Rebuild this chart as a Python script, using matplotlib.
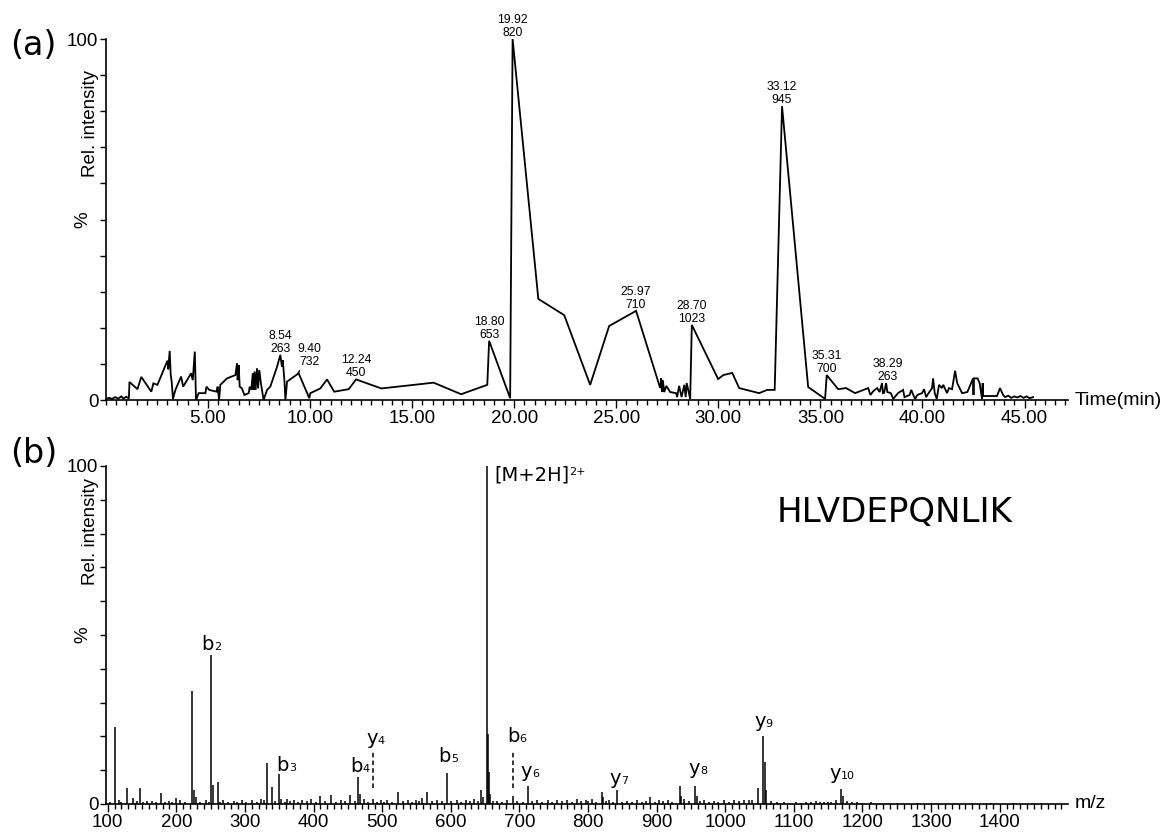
import matplotlib
matplotlib.use('Agg')
import matplotlib.pyplot as plt
from matplotlib.ticker import MultipleLocator, FixedLocator, FormatStrFormatter

plt.rcParams['font.family'] = ['Liberation Sans', 'DejaVu Sans']
plt.rcParams['mathtext.fontset'] = 'dejavusans'

# ---------------- (a) chromatogram data ----------------
tic_time = [0.00, 0.15, 0.30, 0.45, 0.60, 0.75, 0.85, 1.00, 1.12,
            1.15, 1.54, 1.73, 2.22, 2.32, 2.52, 3.01, 3.05, 3.12, 3.17,
            3.22, 3.28, 3.40, 3.68, 3.78, 4.17, 4.25, 4.35, 4.41, 4.54,
            4.87, 4.92, 5.06, 5.41, 5.47, 5.54, 5.60, 5.93, 6.34, 6.42,
            6.45, 6.50, 6.55, 6.66, 6.78, 6.99, 7.04, 7.12, 7.19, 7.23,
            7.28, 7.33, 7.40, 7.45, 7.51, 7.59, 7.72, 7.89, 8.05, 8.38,
            8.54, 8.62, 8.66, 8.74, 8.79, 8.87, 9.44, 9.96, 10.01, 10.50,
            10.83, 11.18, 11.89, 12.25, 13.49, 16.05, 17.40, 18.68, 18.77, 19.80,
            19.92, 21.18, 22.45, 23.72, 24.65, 25.97, 27.15, 27.20, 27.25, 27.28,
            27.35, 27.45, 27.64, 27.93, 27.98, 28.08, 28.20, 28.33, 28.40, 28.45,
            28.62, 28.70, 29.99, 30.24, 30.68, 31.02, 32.00, 32.39, 32.76, 33.12,
            34.40, 35.23, 35.31, 35.87, 36.26, 36.70, 37.34, 37.45, 37.60, 37.78,
            37.90, 38.02, 38.06, 38.12, 38.22, 38.28, 38.45, 38.57, 38.80, 39.05,
            39.12, 39.37, 39.45, 39.55, 39.64, 39.75, 39.98, 40.08, 40.18, 40.30,
            40.47, 40.52, 40.60, 40.70, 40.81, 40.95, 41.02, 41.20, 41.30, 41.45,
            41.60, 41.70, 41.94, 42.20, 42.48, 42.50, 42.52, 42.70, 42.80, 42.92,
            42.95, 42.97, 43.65, 43.80, 43.95, 44.05, 44.20, 44.35, 44.50, 44.65,
            44.80, 44.95, 45.10, 45.25, 45.42]
tic_int = [0.3, 0.6, 0.3, 0.8, 0.4, 1.0, 0.4, 0.9, 0.4,
           5.0, 3.0, 6.4, 2.3, 4.6, 4.2, 10.9, 8.5, 13.6, 7.0,
           5.0, 0.3, 2.8, 6.5, 3.7, 7.4, 5.5, 13.4, 0.0, 1.9,
           1.9, 3.7, 2.8, 2.3, 3.7, 0.0, 4.2, 6.0, 6.9, 10.2,
           5.5, 9.7, 3.7, 3.2, 1.4, 1.9, 3.7, 2.8, 7.4, 2.8,
           7.9, 2.8, 8.8, 3.2, 8.3, 4.6, 0.0, 2.8, 3.7, 9.2,
           12.5, 9.2, 11.0, 5.5, 0.0, 5.1, 7.4, 0.5, 1.9, 3.2,
           5.7, 2.3, 3.0, 5.7, 3.2, 4.8, 1.6, 4.2, 16.4, 0.5,
           100.0, 28.0, 23.5, 4.2, 20.5, 24.7, 3.3, 6.0, 2.2, 5.5,
           2.2, 3.9, 2.2, 1.9, 0.8, 3.9, 0.8, 4.2, 0.8, 4.7,
           0.3, 20.8, 5.8, 6.9, 7.5, 3.3, 1.9, 2.8, 2.8, 81.4,
           3.6, 0.3, 6.9, 3.0, 3.3, 1.9, 3.3, 1.4, 2.5, 3.3,
           2.2, 4.7, 1.9, 2.0, 4.7, 2.2, 1.9, 0.3, 1.9, 2.8,
           0.8, 1.4, 2.8, 1.4, 0.3, 1.4, 1.9, 3.0, 0.8, 1.9,
           3.3, 6.0, 1.9, 0.3, 4.2, 3.3, 4.2, 1.9, 3.3, 3.0,
           8.1, 4.7, 1.9, 2.2, 6.0, 1.4, 6.0, 6.0, 4.7, 0.3,
           4.7, 1.1, 1.1, 3.3, 1.4, 0.8, 1.2, 0.6, 1.0, 0.7,
           1.1, 0.6, 1.0, 0.5, 0.8]
assert len(tic_time) == len(tic_int)

peak_rt_labels = ['8.54', '9.40', '12.24', '18.80', '19.92', '25.97', '28.70', '33.12', '35.31', '38.29']
peak_area_labels = ['263', '732', '450', '653', '820', '710', '1023', '945', '700', '263']
time_ticks = [5, 10, 15, 20, 25, 30, 35, 40, 45]

# ---------------- (b) MS/MS spectrum data ----------------
ms_mz = [103, 110.1, 116, 120, 128.5, 137, 142, 146.5, 151, 157.7,
         165, 170, 177, 183, 189, 194, 200, 206, 213, 223.2,
         225.5, 228, 235, 243, 247, 251.2, 253.5, 260.1, 264, 268.5,
         276, 283.5, 289, 296, 302, 311, 317, 323, 328, 332.2,
         339.5, 344, 350.2, 353, 358, 362, 366, 371.5, 377, 383.6,
         390, 396, 403, 410, 417, 425, 432, 439.5, 446, 453,
         460, 465.2, 467.5, 473.5, 480, 487.3, 492, 498, 503, 507.5,
         515, 523.6, 530, 537, 543, 549, 553, 558.5, 566, 572,
         580.5, 587, 594.3, 601, 609.5, 615, 621.7, 628, 634, 640,
         644.5, 647, 653.4, 654.0, 655.5, 657, 661, 668, 675, 682.5,
         691.3, 697, 705, 712.4, 719, 726, 733, 741, 748, 755,
         762, 770, 777, 784.5, 790, 796.6, 800, 806, 812, 820,
         822.5, 826, 830.6, 836, 841.5, 849, 857, 864, 872, 879,
         884, 891, 897, 903.5, 909, 916, 922, 933.6, 936, 940,
         947, 956.5, 958.5, 963, 969, 976, 983.6, 990, 998, 1005,
         1013, 1020, 1027, 1034.6, 1039.6, 1047, 1055.6, 1057.5, 1059.5, 1066,
         1075, 1085.6, 1094, 1102.7, 1110, 1117, 1125, 1132, 1138, 1144,
         1150, 1154, 1161.6, 1168.7, 1171, 1178, 1185, 1192.7, 1200, 1212,
         1225, 1250, 1280, 1300, 1333.5, 1360, 1387, 1420, 1460]
ms_int = [0.6, 22.7, 1.2, 0.7, 4.6, 1.8, 0.8, 4.7, 0.6, 1.0,
          1.0, 0.6, 3.3, 0.7, 0.8, 0.6, 1.8, 1.1, 0.7, 33.3,
          4.0, 2.0, 0.7, 1.1, 0.6, 44.0, 5.6, 6.5, 0.7, 1.3,
          0.6, 0.8, 0.6, 1.1, 0.7, 1.3, 0.7, 1.5, 1.2, 12.0,
          5.0, 0.9, 8.8, 1.5, 0.7, 1.5, 0.8, 1.3, 0.7, 1.1,
          0.8, 1.5, 0.7, 2.5, 0.8, 2.8, 0.7, 1.1, 0.8, 2.8,
          0.9, 8.0, 3.0, 1.5, 0.7, 1.5, 0.6, 1.3, 0.7, 1.1,
          0.7, 3.5, 0.8, 1.1, 0.7, 1.3, 0.8, 1.8, 3.5, 0.8,
          1.1, 0.8, 9.1, 0.9, 1.3, 0.7, 1.1, 0.8, 1.5, 1.0,
          4.0, 2.0, 100.0, 20.6, 9.4, 3.0, 1.0, 0.8, 0.7, 1.1,
          2.3, 0.8, 0.7, 5.4, 0.9, 1.3, 0.7, 1.1, 0.7, 1.3,
          0.8, 1.1, 0.7, 1.5, 0.8, 1.3, 0.9, 1.5, 0.7, 3.5,
          2.0, 0.8, 1.1, 0.7, 4.0, 0.7, 0.8, 0.6, 1.1, 0.7,
          0.8, 2.0, 0.7, 1.1, 0.8, 1.1, 0.7, 5.4, 2.5, 1.5,
          0.8, 5.4, 2.5, 0.8, 1.1, 0.6, 0.8, 0.7, 1.1, 0.7,
          1.1, 0.8, 1.3, 1.1, 1.3, 4.7, 20.0, 12.4, 4.0, 0.8,
          0.5, 0.5, 0.4, 0.5, 0.4, 0.6, 0.5, 0.8, 0.5, 0.6,
          0.5, 0.6, 1.3, 4.4, 2.5, 0.8, 0.5, 0.6, 0.4, 0.6,
          0.3, 0.3, 0.3, 0.3, 0.4, 0.3, 0.3, 0.2, 0.2]
assert len(ms_mz) == len(ms_int)

ion_letters = ['b', 'b', 'b', 'y', 'b', 'b', 'y', 'y', 'y', 'y', 'y']
ion_numbers = ['2', '3', '4', '4', '5', '6', '6', '7', '8', '9', '10']
ion_mz = [251.2, 350.2, 465.2, 487.3, 594.3, 691.3, 712.4, 841.5, 956.5, 1055.6, 1168.7]
ion_dashed = [False, False, False, True, False, True, False, False, False, False, False]
precursor_mz = 653.4
precursor_label = '[M+2H]'
precursor_charge = '2+'
peptide = 'HLVDEPQNLIK'
mz_ticks = list(range(100, 1500, 100))

# ---------------- layout / style ----------------
W, H = 1163, 832
fig = plt.figure(figsize=(W / 100, H / 100), dpi=100)
fig.patch.set_facecolor('white')
renderer = fig.canvas.get_renderer()
PX2PT = 72.0 / fig.dpi

ax1 = fig.add_axes([106 / W, 1 - 400 / H, 962 / W, 361 / H])
ax2 = fig.add_axes([106 / W, 1 - 804 / H, 962 / W, 338 / H])

LW_SPINE = 1.2
TICKFS = 13.5


def style_axes(ax):
    for s in ('top', 'right'):
        ax.spines[s].set_visible(False)
    for s in ('left', 'bottom'):
        ax.spines[s].set_linewidth(LW_SPINE)
    ax.set_ylim(0, 100)
    ax.yaxis.set_major_locator(FixedLocator([0, 100]))
    ax.yaxis.set_minor_locator(MultipleLocator(10))
    ax.tick_params(axis='y', which='both', direction='out', length=4.5, width=1.0,
                   pad=1, labelsize=TICKFS)
    ax.tick_params(axis='x', which='major', direction='out', length=6, width=1.0,
                   pad=1.5, labelsize=TICKFS)
    ax.tick_params(axis='x', which='minor', direction='out', length=3.5, width=1.0)
    ax.annotate('%', xy=(0, 50), xycoords=('axes fraction', 'data'),
                xytext=(-17, 0), textcoords='offset points', rotation=90,
                ha='center', va='center', fontsize=13.5)


# ---- panel (a)
style_axes(ax1)
ax1.plot(tic_time, tic_int, color='black', lw=1.3, solid_joinstyle='miter')
ax1.set_xlim(0, 47.13)
ax1.xaxis.set_major_locator(FixedLocator(time_ticks))
ax1.xaxis.set_major_formatter(FormatStrFormatter('%.2f'))
ax1.xaxis.set_minor_locator(MultipleLocator(0.5))
ax1.annotate('Rel. intensity', xy=(0, 76.7), xycoords=('axes fraction', 'data'),
             xytext=(-11.5, 0), textcoords='offset points', rotation=90,
             ha='center', va='center', fontsize=13.5)
ax1.annotate('Time(min)', xy=(1, 0), xycoords='axes fraction', xytext=(5, 0),
             textcoords='offset points', ha='left', va='center', fontsize=14)

for rt, area in zip(peak_rt_labels, peak_area_labels):
    t = float(rt)
    ymax = max(v for tt, v in zip(tic_time, tic_int) if abs(tt - t) <= 0.1)
    if rt == '9.40':
        ax1.annotate(rt + '\n' + area, xy=(t, ymax), xytext=(8.5, 6),
                     textcoords='offset points', ha='center', va='baseline',
                     fontsize=8.8, linespacing=1.1,
                     arrowprops=dict(arrowstyle='-', color='black', lw=1.0,
                                     shrinkA=0, shrinkB=0, relpos=(0.15, 0.0)))
    else:
        ax1.annotate(rt + '\n' + area, xy=(t, ymax), xytext=(0, 2.2),
                     textcoords='offset points', ha='center', va='baseline',
                     fontsize=8.8, linespacing=1.1)

# ---- panel (b)
style_axes(ax2)
ax2.vlines(ms_mz, 0, ms_int, color='black', lw=1.1)
ax2.set_xlim(97.5, 1499.5)
ax2.xaxis.set_major_locator(FixedLocator(mz_ticks))
ax2.xaxis.set_minor_locator(MultipleLocator(10))
ax2.annotate('Rel. intensity', xy=(0, 80.5), xycoords=('axes fraction', 'data'),
             xytext=(-11.5, 0), textcoords='offset points', rotation=90,
             ha='center', va='center', fontsize=13.5)
ax2.annotate('m/z', xy=(1, 0), xycoords='axes fraction', xytext=(5, 0),
             textcoords='offset points', ha='left', va='center', fontsize=14)

ION_FS = 14
SUB_FS = 8
DASH_SPAN = (4.8, 15.8)
ion_offsets = [(0, 4, 'center'), (-2, 2.5, 'left'), (1, 3.8, 'center'), (1.5, 5, 'center'),
               (1, 8, 'center'), (2.5, 6, 'center'), (1.5, 6, 'center'), (1.5, 5, 'center'),
               (2, 8.4, 'center'), (0, 7, 'center'), (0.7, 7, 'center')]


def two_part_label(ax, main, small, xy, dx, dy, ha, small_dy, small_va):
    t1 = ax.annotate(main, xy=xy, xytext=(0, 0), textcoords='offset points',
                     ha='left', va='baseline' if small_va == 'baseline' else 'top',
                     fontsize=ION_FS, family='DejaVu Sans')
    t2 = ax.annotate(small, xy=xy, xytext=(0, 0), textcoords='offset points',
                     ha='left', va=small_va, fontsize=SUB_FS, family='DejaVu Sans')
    w1 = t1.get_window_extent(renderer).width * PX2PT
    w2 = t2.get_window_extent(renderer).width * PX2PT
    start = dx - ((w1 + w2) / 2.0 if ha == 'center' else 0.0)
    t1.xyann = (start, dy)
    t2.xyann = (start + w1, dy + small_dy)


for letter, num, mz, dashed, (dx, dy, ha) in zip(ion_letters, ion_numbers, ion_mz,
                                                  ion_dashed, ion_offsets):
    if dashed:
        lo, hi = DASH_SPAN
        ax2.plot([mz, mz], [lo, hi], color='black', lw=1.1, ls=(0, (3, 2)))
        ytop = hi
    else:
        ytop = max(v for m, v in zip(ms_mz, ms_int) if abs(m - mz) <= 1.0)
    two_part_label(ax2, letter, num, (mz, ytop), dx, dy, ha, 0.0, 'baseline')

two_part_label(ax2, precursor_label, precursor_charge, (precursor_mz, 100),
               5, 0.5, 'left', -1.0, 'top')

ax2.text(0.6975, 0.834, peptide, transform=ax2.transAxes, ha='left', va='baseline',
         fontsize=24.5, family='DejaVu Sans')

fig.text(10 / W, 1 - 55 / H, '(a)', ha='left', va='baseline', fontsize=24, family='DejaVu Sans')
fig.text(10 / W, 1 - 463 / H, '(b)', ha='left', va='baseline', fontsize=24, family='DejaVu Sans')

fig.savefig('out.png', dpi=100, facecolor='white')
